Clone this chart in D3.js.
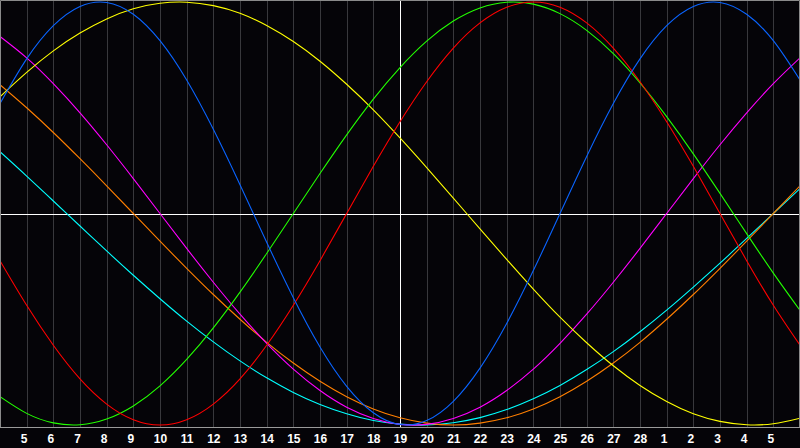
<!DOCTYPE html>
<html>
<head>
<meta charset="utf-8">
<script src="https://cdn.jsdelivr.net/npm/d3@7"></script>
<style>
  body { margin: 0; background: #050408; }
  svg { display: block; }
</style>
</head>
<body>
<div id="chart"></div>
<script>
// day labels, one per day from Feb 4 to Mar 6
var dayLabels = [4, 5, 6, 7, 8, 9, 10, 11, 12, 13, 14, 15, 16, 17, 18, 19, 20, 21, 22, 23, 24, 25, 26, 27, 28, 1, 2, 3, 4, 5, 6];
var todayIndex = 15;

// series values in percent, one per day
var physical     = [52.0, 73.1, 88.8, 97.9, 99.8, 94.2, 81.7, 63.1, 39.8, 13.6, -13.6, -39.8, -63.1, -81.7, -94.2, -99.8, -97.9, -88.8, -73.1, -52.0, -27.0, 0, 27.0, 52.0, 73.1, 88.8, 97.9, 99.8, 94.2, 81.7, 63.1];
var emotional    = [-22.3, -43.4, -62.3, -78.2, -90.1, -97.5, -100, -97.5, -90.1, -78.2, -62.3, -43.4, -22.3, 0, 22.3, 43.4, 62.3, 78.2, 90.1, 97.5, 100, 97.5, 90.1, 78.2, 62.3, 43.4, 22.3, 0, -22.3, -43.4, -62.3];
var intellectual = [-86.6, -94.5, -99.0, -99.9, -97.2, -91.0, -81.5, -69.0, -54.1, -37.2, -18.9, 0, 18.9, 37.2, 54.1, 69.0, 81.5, 91.0, 97.2, 99.9, 99.0, 94.5, 86.6, 75.6, 61.8, 45.8, 28.2, 9.5, -9.5, -28.2, -45.8];
var intuitive    = [83.7, 73.6, 61.4, 47.6, 32.5, 16.5, 0, -16.5, -32.5, -47.6, -61.4, -73.6, -83.7, -91.6, -96.9, -99.7, -99.7, -96.9, -91.6, -83.7, -73.6, -61.4, -47.6, -32.5, -16.5, 0, 16.5, 32.5, 47.6, 61.4, 73.6];
var aesthetic    = [55.2, 66.7, 76.9, 85.3, 92.0, 96.8, 99.4, 99.9, 98.3, 94.7, 88.9, 81.3, 72.0, 61.1, 49.0, 35.7, 21.7, 7.3, -7.3, -21.7, -35.7, -49.0, -61.1, -72.0, -81.3, -88.9, -94.7, -98.3, -99.9, -99.4, -96.8];
var awareness    = [60.9, 50.0, 38.3, 25.9, 13.1, 0, -13.1, -25.9, -38.3, -50.0, -60.9, -70.7, -79.3, -86.6, -92.4, -96.6, -99.1, -100, -99.1, -96.6, -92.4, -86.6, -79.3, -70.7, -60.9, -50.0, -38.3, -25.9, -13.1, 0, 13.1];
var spiritual    = [29.2, 17.7, 5.9, -5.9, -17.7, -29.2, -40.3, -50.9, -60.7, -69.7, -77.7, -84.6, -90.3, -94.7, -97.9, -99.6, -100, -98.9, -96.5, -92.7, -87.6, -81.3, -73.8, -65.3, -55.9, -45.7, -34.8, -23.5, -11.8, 0, 11.8];

var seriesList = [
  {name: "spiritual", values: spiritual, color: "#00ffff"},
  {name: "awareness", values: awareness, color: "#ff7f00"},
  {name: "intuitive", values: intuitive, color: "#ff00ff"},
  {name: "aesthetic", values: aesthetic, color: "#ffff00"},
  {name: "intellectual", values: intellectual, color: "#22ff00"},
  {name: "emotional", values: emotional, color: "#ff0000"},
  {name: "physical", values: physical, color: "#0a64ff"}
];

var svgWidth = 800;
var svgHeight = 448;
var plotHeight = 427;

var svg = d3.select("#chart")
  .append("svg")
  .attr("width", svgWidth)
  .attr("height", svgHeight)
  .style("background", "#050408");

// scales
var xScale = d3.scaleLinear()
  .domain([0, dayLabels.length - 1])
  .range([0, svgWidth]);

var yScale = d3.scaleLinear()
  .domain([-100, 100])
  .range([425, 2]);

// vertical day grid
svg.append("g")
  .selectAll("line")
  .data(d3.range(1, dayLabels.length - 1))
  .enter()
  .append("line")
  .attr("x1", d => Math.round(xScale(d)) + 0.5)
  .attr("x2", d => Math.round(xScale(d)) + 0.5)
  .attr("y1", 0)
  .attr("y2", plotHeight)
  .attr("stroke", "#38383c")
  .attr("stroke-width", 1);

// centre lines
svg.append("line")
  .attr("x1", 0).attr("x2", svgWidth)
  .attr("y1", Math.round(yScale(0)) + 0.5).attr("y2", Math.round(yScale(0)) + 0.5)
  .attr("stroke", "#ffffff");

svg.append("line")
  .attr("x1", Math.round(xScale(todayIndex)) + 0.5).attr("x2", Math.round(xScale(todayIndex)) + 0.5)
  .attr("y1", 0).attr("y2", plotHeight)
  .attr("stroke", "#ffffff");

// curves
var line = d3.line()
  .x((d, i) => xScale(i))
  .y(d => yScale(d))
  .curve(d3.curveNatural);

svg.append("g")
  .selectAll("path")
  .data(seriesList)
  .enter()
  .append("path")
  .attr("d", d => line(d.values))
  .attr("fill", "none")
  .attr("stroke", d => d.color)
  .attr("stroke-width", 1.1);

// frame
svg.append("path")
  .attr("d", "M0.5," + (plotHeight + 0.5) + "V0.5H" + (svgWidth - 0.5) + "V" + (plotHeight + 0.5))
  .attr("fill", "none")
  .attr("stroke", "#8a8a8a");

svg.append("line")
  .attr("x1", 0).attr("x2", svgWidth)
  .attr("y1", plotHeight + 0.5).attr("y2", plotHeight + 0.5)
  .attr("stroke", "#9a9a9a");

// day labels along the bottom
var bottomAxis = d3.axisBottom(xScale)
  .tickValues(d3.range(1, dayLabels.length - 1))
  .tickFormat(d => dayLabels[d])
  .tickSize(0)
  .tickPadding(0);

var axisGroup = svg.append("g")
  .attr("transform", "translate(0," + (plotHeight + 3) + ")")
  .call(bottomAxis);

axisGroup.select(".domain").remove();

axisGroup.selectAll("text")
  .attr("fill", "#ffffff")
  .attr("font-family", "Liberation Sans, Arial, sans-serif")
  .attr("font-weight", "bold")
  .attr("font-size", "12px")
  .attr("x", function(d) { return dayLabels[d] < 10 ? -3 : 0; })
  .attr("y", 13)
  .attr("dy", 0);
</script>
</body>
</html>
